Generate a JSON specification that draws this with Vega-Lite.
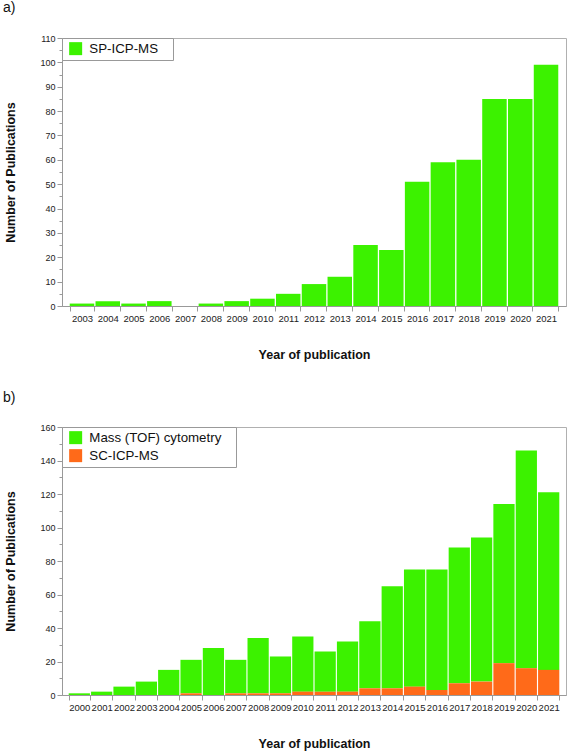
{
  "$schema": "https://vega.github.io/schema/vega-lite/v6.json",
  "padding": {"left": 2, "top": 0, "right": 0, "bottom": 0},
  "background": "white",
  "spacing": 28,
  "resolve": {"scale": {"color": "independent", "x": "independent", "y": "independent"}, "legend": {"color": "independent"}},
  "config": {
    "font": "Liberation Sans",
    "view": {"stroke": "#b0b0b0", "strokeWidth": 1},
    "axis": {
      "domainColor": "#999999",
      "tickColor": "#999999",
      "labelColor": "#222222",
      "labelFont": "Liberation Sans",
      "titleFont": "Liberation Sans",
      "titleFontWeight": "bold",
      "titleFontSize": 12.5,
      "titleColor": "#111111",
      "grid": false
    },
    "title": {"font": "Liberation Sans", "fontSize": 14, "fontWeight": "normal", "anchor": "start", "frame": "bounds", "color": "#111111"},
    "legend": {
      "strokeColor": "#999999",
      "fillColor": "white",
      "padding": 4,
      "labelFontSize": 13.3,
      "labelFont": "Liberation Sans",
      "labelColor": "#111111",
      "symbolSize": 169,
      "symbolType": "square",
      "symbolStrokeWidth": 0,
      "symbolOffset": 3,
      "labelOffset": 7,
      "rowPadding": 3
    }
  },
  "vconcat": [
    {
      "title": {"text": "a)", "offset": 19, "dx": -2},
      "width": 504,
      "height": 268,
      "data": {"values": [
        {"year": "2003", "count": 1},
        {"year": "2004", "count": 2},
        {"year": "2005", "count": 1},
        {"year": "2006", "count": 2},
        {"year": "2007", "count": 0},
        {"year": "2008", "count": 1},
        {"year": "2009", "count": 2},
        {"year": "2010", "count": 3},
        {"year": "2011", "count": 5},
        {"year": "2012", "count": 9},
        {"year": "2013", "count": 12},
        {"year": "2014", "count": 25},
        {"year": "2015", "count": 23},
        {"year": "2016", "count": 51},
        {"year": "2017", "count": 59},
        {"year": "2018", "count": 60},
        {"year": "2019", "count": 85},
        {"year": "2020", "count": 85},
        {"year": "2021", "count": 99}
      ]},
      "mark": {"type": "bar"},
      "encoding": {
        "x": {
          "field": "year", "type": "ordinal",
          "scale": {"paddingInner": 0.05, "paddingOuter": 0.3},
          "axis": {"title": "Year of publication", "labelAngle": 0, "labelFontSize": 9.5, "tickSize": 5, "labelPadding": 2, "titlePadding": 26, "tickBand": "extent"}
        },
        "y": {
          "field": "count", "type": "quantitative",
          "scale": {"domain": [0, 110], "nice": false},
          "axis": {
            "title": "Number of Publications",
            "values": [0,5,10,15,20,25,30,35,40,45,50,55,60,65,70,75,80,85,90,95,100,105,110],
            "labelExpr": "datum.value % 10 ? '' : datum.label",
            "tickSize": {"condition": {"test": "datum.value % 10 !== 0", "value": 3}, "value": 5},
            "labelFontSize": 9,
            "labelPadding": 2,
            "titlePadding": 22
          }
        },
        "color": {
          "datum": "SP-ICP-MS",
          "scale": {"range": ["#3cf200"]},
          "legend": {"title": null, "orient": "top-left", "offset": 0, "labelExpr": "datum.label + '\u2800'"}
        }
      }
    },
    {
      "title": {"text": "b)", "offset": 18, "dx": -2},
      "width": 504,
      "height": 268,
      "data": {"values": [
        {"year": "2000", "series": "Mass (TOF) cytometry", "count": 1},
        {"year": "2001", "series": "Mass (TOF) cytometry", "count": 2},
        {"year": "2002", "series": "Mass (TOF) cytometry", "count": 5},
        {"year": "2003", "series": "Mass (TOF) cytometry", "count": 8},
        {"year": "2004", "series": "Mass (TOF) cytometry", "count": 15},
        {"year": "2005", "series": "Mass (TOF) cytometry", "count": 20},
        {"year": "2006", "series": "Mass (TOF) cytometry", "count": 28},
        {"year": "2007", "series": "Mass (TOF) cytometry", "count": 20},
        {"year": "2008", "series": "Mass (TOF) cytometry", "count": 33},
        {"year": "2009", "series": "Mass (TOF) cytometry", "count": 22},
        {"year": "2010", "series": "Mass (TOF) cytometry", "count": 33},
        {"year": "2011", "series": "Mass (TOF) cytometry", "count": 24},
        {"year": "2012", "series": "Mass (TOF) cytometry", "count": 30},
        {"year": "2013", "series": "Mass (TOF) cytometry", "count": 40},
        {"year": "2014", "series": "Mass (TOF) cytometry", "count": 61},
        {"year": "2015", "series": "Mass (TOF) cytometry", "count": 70},
        {"year": "2016", "series": "Mass (TOF) cytometry", "count": 72},
        {"year": "2017", "series": "Mass (TOF) cytometry", "count": 81},
        {"year": "2018", "series": "Mass (TOF) cytometry", "count": 86},
        {"year": "2019", "series": "Mass (TOF) cytometry", "count": 95},
        {"year": "2020", "series": "Mass (TOF) cytometry", "count": 130},
        {"year": "2021", "series": "Mass (TOF) cytometry", "count": 106},
        {"year": "2000", "series": "SC-ICP-MS", "count": 0},
        {"year": "2001", "series": "SC-ICP-MS", "count": 0},
        {"year": "2002", "series": "SC-ICP-MS", "count": 0},
        {"year": "2003", "series": "SC-ICP-MS", "count": 0},
        {"year": "2004", "series": "SC-ICP-MS", "count": 0},
        {"year": "2005", "series": "SC-ICP-MS", "count": 1},
        {"year": "2006", "series": "SC-ICP-MS", "count": 0},
        {"year": "2007", "series": "SC-ICP-MS", "count": 1},
        {"year": "2008", "series": "SC-ICP-MS", "count": 1},
        {"year": "2009", "series": "SC-ICP-MS", "count": 1},
        {"year": "2010", "series": "SC-ICP-MS", "count": 2},
        {"year": "2011", "series": "SC-ICP-MS", "count": 2},
        {"year": "2012", "series": "SC-ICP-MS", "count": 2},
        {"year": "2013", "series": "SC-ICP-MS", "count": 4},
        {"year": "2014", "series": "SC-ICP-MS", "count": 4},
        {"year": "2015", "series": "SC-ICP-MS", "count": 5},
        {"year": "2016", "series": "SC-ICP-MS", "count": 3},
        {"year": "2017", "series": "SC-ICP-MS", "count": 7},
        {"year": "2018", "series": "SC-ICP-MS", "count": 8},
        {"year": "2019", "series": "SC-ICP-MS", "count": 19},
        {"year": "2020", "series": "SC-ICP-MS", "count": 16},
        {"year": "2021", "series": "SC-ICP-MS", "count": 15}
      ]},
      "mark": {"type": "bar"},
      "encoding": {
        "x": {
          "field": "year", "type": "ordinal",
          "scale": {"paddingInner": 0.05, "paddingOuter": 0.3},
          "axis": {"title": "Year of publication", "labelAngle": 0, "labelFontSize": 9.5, "tickSize": 5, "labelPadding": 2, "titlePadding": 26, "tickBand": "extent"}
        },
        "y": {
          "field": "count", "type": "quantitative", "stack": "zero",
          "scale": {"domain": [0, 160], "nice": false},
          "axis": {
            "title": "Number of Publications",
            "values": [0,10,20,30,40,50,60,70,80,90,100,110,120,130,140,150,160],
            "labelExpr": "datum.value % 20 ? '' : datum.label",
            "tickSize": {"condition": {"test": "datum.value % 20 !== 0", "value": 3}, "value": 5},
            "labelFontSize": 9,
            "labelPadding": 2,
            "titlePadding": 22
          }
        },
        "color": {
          "field": "series", "type": "nominal",
          "scale": {"domain": ["Mass (TOF) cytometry", "SC-ICP-MS"], "range": ["#3cf200", "#ff6a19"]},
          "legend": {"title": null, "orient": "top-left", "offset": 0, "labelExpr": "datum.label + '\u2800'"}
        },
        "order": {"field": "series", "sort": "descending"}
      }
    }
  ]
}
